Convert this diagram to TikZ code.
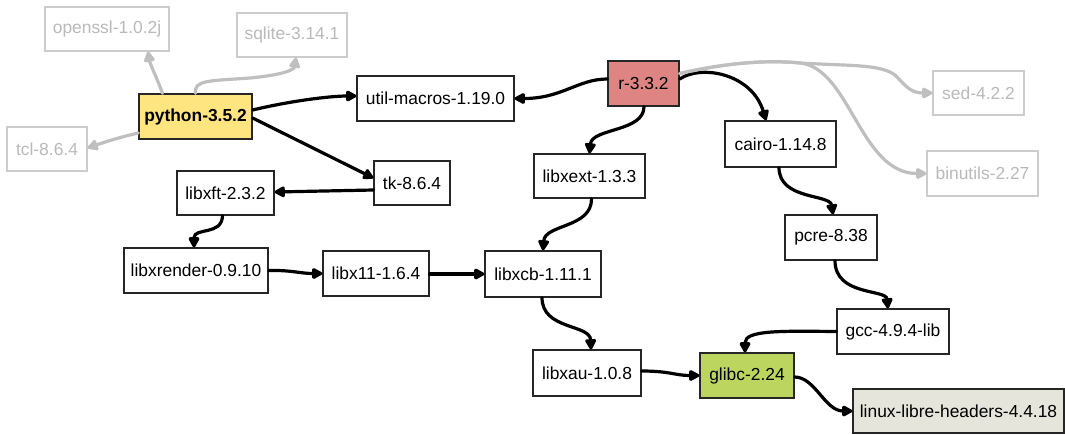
\documentclass[tikz,border=0pt]{standalone}
\usepackage{fontspec}
\setmainfont{Liberation Sans}
\usetikzlibrary{arrows.meta}
\definecolor{pyfill}{HTML}{FFE57F}
\definecolor{rfill}{HTML}{DE8584}
\definecolor{glfill}{HTML}{BBD55F}
\definecolor{lnfill}{HTML}{E6E5DC}
\begin{document}
\begin{tikzpicture}[x=1pt,y=-1pt,
  pkg/.style={draw=black!85, line width=1.3pt, inner sep=0pt, fill=white,
    font=\fontsize{17.4}{20}\selectfont},
  ghost/.style={pkg, draw=black!20, text=black!27},
  edge/.style={line width=3.2pt, draw=black, line cap=round,
    -{Triangle[length=12pt,width=12pt,round]}},
  gedge/.style={edge, draw=black!25}]
\useasboundingbox (0,0) rectangle (1065,434);
% nodes
\node[ghost, minimum width=124pt, minimum height=44pt] (openssl) at (107,29) {openssl-1.0.2j};
\node[ghost, minimum width=110pt, minimum height=44pt] (sqlite) at (292,35) {sqlite-3.14.1};
\node[pkg, fill=pyfill, minimum width=113pt, minimum height=45pt, font=\fontsize{17.4}{20}\selectfont\bfseries] (python) at (195.5,116.5) {python-3.5.2};
\node[ghost, minimum width=80pt, minimum height=44pt] (tcl) at (47,149) {tcl-8.6.4};
\node[pkg, minimum width=97pt, minimum height=44pt] (libxft) at (225.5,193) {libxft-2.3.2};
\node[pkg, minimum width=157pt, minimum height=45pt] (util) at (435.5,98.5) {util-macros-1.19.0};
\node[pkg, fill=rfill, minimum width=71pt, minimum height=45pt] (r) at (643.5,83.5) {r-3.3.2};
\node[pkg, minimum width=76pt, minimum height=44pt] (tk) at (412,183) {tk-8.6.4};
\node[pkg, minimum width=111pt, minimum height=44pt] (libxext) at (589.5,176) {libxext-1.3.3};
\node[ghost, minimum width=91pt, minimum height=44pt] (sed) at (978.5,93) {sed-4.2.2};
\node[pkg, minimum width=111pt, minimum height=46pt] (cairo) at (780.5,144) {cairo-1.14.8};
\node[ghost, minimum width=111pt, minimum height=45pt] (binutils) at (982.5,173.5) {binutils-2.27};
\node[pkg, minimum width=144pt, minimum height=45pt] (libxrender) at (196,270.5) {libxrender-0.9.10};
\node[pkg, minimum width=106pt, minimum height=45pt] (libx11) at (376,273.5) {libx11-1.6.4};
\node[pkg, minimum width=116pt, minimum height=46pt] (libxcb) at (543,274) {libxcb-1.11.1};
\node[pkg, minimum width=108pt, minimum height=46pt] (libxau) at (587,373) {libxau-1.0.8};
\node[pkg, fill=glfill, minimum width=94pt, minimum height=45pt] (glibc) at (747,375.5) {glibc-2.24};
\node[pkg, fill=lnfill, minimum width=211pt, minimum height=44pt] (linux) at (958.5,411) {linux-libre-headers-4.4.18};
\node[pkg, minimum width=92pt, minimum height=45pt] (pcre) at (831,237.5) {pcre-8.38};
\node[pkg, minimum width=112pt, minimum height=45pt] (gcc) at (893,331.5) {gcc-4.9.4-lib};
% edges
\draw[gedge] ([xshift=-33pt]python.north) .. controls (157,78) and (150,64) .. ([xshift=41pt]openssl.south);
\draw[gedge] (python.north) .. controls (194,80) and (208,81) .. (250,78) .. controls (282,75) and (294,70) .. ([xshift=4pt]sqlite.south);
\draw[gedge] ([yshift=-16.5pt]python.west) .. controls (120,137) and (102,143) .. ([yshift=1pt]tcl.east);
\draw[edge] ([yshift=6.5pt]python.east) .. controls (290,101) and (330,96) .. ([yshift=2.5pt]util.west);
\draw[edge] ([yshift=-1.5pt]python.east) -- ([yshift=5pt]tk.west);
\draw[edge] ([yshift=-7pt]tk.west) -- ([yshift=1pt]libxft.east);
\draw[edge] ([xshift=-3pt]libxft.south) .. controls (222,236) and (194,227) .. ([xshift=-2pt]libxrender.north);
\draw[edge] (libxrender.east) .. controls (292,270) and (300,273.5) .. (libx11.west);
\draw[edge] ([yshift=-0.5pt]libx11.east) -- (libxcb.west);
\draw[edge] ([yshift=4.5pt]r.west) .. controls (578,79) and (562,98.5) .. (util.east);
\draw[edge] ([xshift=0.5pt]r.south) .. controls (644,132) and (592,128) .. (libxext.north);
\draw[edge] ([yshift=4.5pt]r.east) .. controls (702,64) and (752,74) .. ([xshift=-14.5pt]cairo.north);
\draw[gedge] ([yshift=10pt]r.east) .. controls (730,62) and (770,60) .. (800,63) .. controls (850,66) and (880,64) .. (895,75) .. controls (905,85) and (910,93) .. (sed.west);
\draw[gedge] ([yshift=10pt]r.east) .. controls (730,62) and (770,60) .. (800,63) .. controls (850,68) and (860,173.5) .. (binutils.west);
\draw[edge] ([xshift=2pt]libxext.south) .. controls (592,228) and (545,224) .. (libxcb.north);
\draw[edge] ([xshift=-1pt]libxcb.south) .. controls (542,330) and (590,324) .. ([xshift=4pt]libxau.north);
\draw[edge] ([yshift=2pt]libxau.east) .. controls (670,371) and (675,375.5) .. (glibc.west);
\draw[edge] (gcc.west) .. controls (780,331) and (745,330) .. ([xshift=-2pt]glibc.north);
\draw[edge] ([yshift=-1.5pt]glibc.east) .. controls (815,377) and (825,411) .. (linux.west);
\draw[edge] ([xshift=-1.5pt]cairo.south) .. controls (779,200) and (830,194) .. ([xshift=2pt]pcre.north);
\draw[edge] ([xshift=4pt]pcre.south) .. controls (835,296) and (886,289) .. ([xshift=-5pt]gcc.north);
\end{tikzpicture}
\end{document}
